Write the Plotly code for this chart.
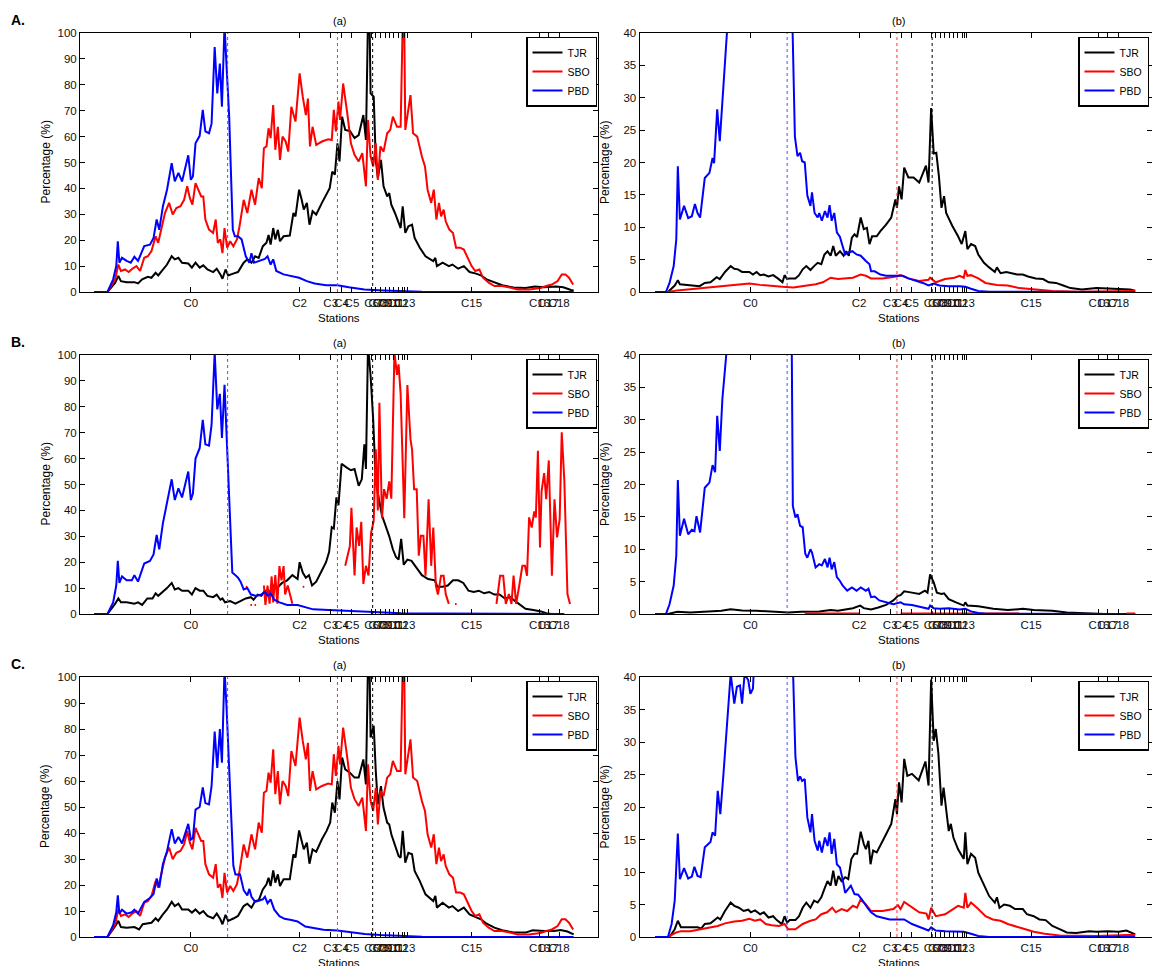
import plotly.graph_objects as go

W, H = 1152, 966

# ---------------- station ticks (x in % of transect) ----------------
STATION_POS = [21.4, 42.4, 48.4, 50.5, 52.5, 56.3, 57.1, 58.05, 58.9, 59.8, 60.6, 61.4, 62.7, 75.6, 88.7, 90.4, 92.5]
STATION_LBL = ["C0", "C2", "C3", "C4", "C5", "C6", "C7", "C8", "C9", "C10", "C11", "C12", "C13", "C15", "C16", "C17", "C18"]
EXTRA_TICKS = [62.3, 63.2]

# vertical dotted reference lines (x position, colour)
REF_LINES = [(28.5, "#5050ff"), (49.7, "#ff3030"), (56.5, "#000000")]

A_LEVELS = [0, 10, 20, 30, 40, 50, 60, 70, 80, 90, 100]
B_LEVELS = [0, 5, 10, 15, 20, 25, 30, 35, 40]

SERIES_NAMES = ["TJR", "SBO", "PBD"]
SERIES_COLORS = ["#000000", "#ff0000", "#0000ff"]

# ---------------- panel A (a) ----------------
A_a_TJR = [(2.7,0),(5.3,0),(6.8,3.6),(7.4,6.2),(7.9,4.2),(9.0,3.8),(10.5,3.8),(11.2,3.3),(12.0,4.9),(13.1,5.9),(13.8,5.5),
           (14.6,7.4),(15.1,6.4),(16.0,8.7),(16.8,10.6),(17.7,13.8),(18.3,12.6),(19.0,13.2),(19.7,11.3),(20.9,11.0),(21.6,9.4),
           (22.3,11.3),(23.1,9.4),(23.8,10.3),(24.6,8.7),(25.7,7.7),(26.4,9.0),(27.1,6.8),(27.5,5.1),(28.1,8.7),(28.6,6.4),
           (29.7,7.2),(30.5,7.7),(31.6,11.3),(32.3,12.6),(33.1,11.3),(33.8,13.8),(34.5,13.2),(35.3,17.7),(36.0,19.0),(36.4,22.0),
           (36.8,18.3),(37.3,24.7),(37.7,20.3),(38.2,24.0),(38.6,19.6),(39.3,21.5),(40.5,21.8),(41.2,30.5),(41.6,29.2),(42.3,39.5),
           (42.8,35.6),(43.2,31.8),(43.8,34.4),(44.3,26.0),(44.9,31.2),(45.6,29.9),(46.7,34.4),(47.6,37.6),(48.2,40.1),(48.7,46.5),
           (49.2,45.3),(49.7,57.4),(50.1,50.4),(50.6,67.7),(51.2,62.6),(52.1,62.2),(53.0,59.4),(53.8,60.6),(54.7,68.3),(55.2,58.7),
           (55.6,106),(55.9,104),(56.1,76.7),(56.7,75.4),(57.1,51.0),(57.5,44.0),(58.1,51.0),(58.6,40.8),(59.3,36.9),(59.7,38.2),
           (60.1,33.7),(60.8,30.5),(61.5,26.7),(61.9,24.7),(62.3,33.1),(62.8,22.8),(63.4,25.4),(64.1,26.0),(64.6,20.9),(65.6,17.1),
           (66.7,13.8),(68.2,11.9),(68.6,13.2),(68.9,10.0),(70.0,11.3),(71.2,10.0),(71.9,10.6),(73.0,9.0),(74.1,10.0),(75.2,7.7),
           (76.3,7.2),(77.4,6.4),(78.5,4.9),(80.0,3.6),(81.5,2.6),(83.7,1.7),(86.0,1.5),(87.8,2.1),(89.6,1.8),(91.9,2.1),(93.3,1.8),
           (94.8,0.8),(95.3,0.6)]

A_a_SBO = [(2.7,0),(5.3,0),(6.8,4.9),(7.4,10.6),(7.9,8.1),(8.7,8.7),(9.4,7.7),(10.1,9.0),(10.9,10.0),(11.6,8.1),(12.4,13.2),
           (13.1,13.8),(13.8,15.8),(14.6,21.5),(15.1,19.0),(15.7,24.0),(16.4,30.5),(17.2,34.4),(17.9,29.9),(18.6,32.4),(19.4,33.1),
           (20.1,35.6),(20.7,40.8),(21.2,36.3),(21.7,33.7),(22.3,42.0),(22.9,38.8),(23.4,36.9),(23.8,36.9),(24.2,28.0),(24.9,24.1),
           (25.7,22.8),(26.2,28.0),(26.6,19.0),(27.1,20.3),(27.5,15.0),(27.9,24.7),(28.4,17.1),(29.0,19.6),(29.6,17.7),(30.3,20.3),
           (30.8,25.4),(31.6,35.6),(32.3,30.5),(33.1,39.5),(33.8,33.7),(34.5,44.0),(35.1,40.1),(35.5,55.5),(36.0,56.2),(36.4,63.2),
           (36.8,59.4),(37.3,72.2),(37.7,54.9),(38.2,63.8),(38.6,51.0),(39.1,60.0),(39.7,58.1),(40.2,54.2),(40.8,71.5),(41.6,65.8),
           (42.4,84.4),(43.0,75.4),(43.6,68.3),(44.0,74.7),(44.4,56.2),(44.9,63.8),(45.6,56.8),(46.7,58.1),(47.9,59.0),(48.6,58.7),
           (49.0,70.3),(49.4,62.0),(49.9,73.5),(50.2,66.4),(50.8,80.5),(51.6,69.0),(52.3,57.4),(53.0,53.0),(53.8,50.4),(54.5,53.6),
           (55.2,40.8),(55.6,66.4),(56.1,52.3),(56.6,48.5),(57.1,57.4),(57.5,43.3),(58.0,56.2),(58.6,54.2),(59.3,61.3),(59.9,62.6),
           (60.4,67.7),(61.2,63.8),(61.9,63.8),(62.3,104),(62.6,102),(62.8,62.6),(63.2,67.7),(63.8,76.0),(64.3,61.3),(65.1,60.0),
           (66.0,52.3),(66.6,48.5),(67.1,39.5),(67.8,34.4),(68.3,39.5),(68.8,28.0),(69.3,34.4),(69.7,29.2),(70.2,31.8),(70.6,27.3),
           (71.3,24.1),(72.0,22.8),(72.6,17.1),(73.4,17.1),(74.1,16.4),(74.9,12.6),(75.6,10.0),(76.3,8.1),(77.1,8.7),(77.8,5.5),
           (78.9,3.6),(80.0,2.3),(81.5,2.3),(83.0,1.7),(84.5,1.0),(86.7,1.0),(88.9,1.5),(90.0,2.3),(91.1,2.9),(92.2,4.2),(93.0,6.8),
           (93.7,6.8),(94.4,5.5),(95.2,2.9)]

A_a_PBD = [(2.7,0),(5.3,0),(6.4,4.9),(7.0,10.0),(7.3,19.6),(7.6,11.3),(8.1,13.2),(9.0,12.0),(9.8,11.3),(10.5,13.6),(11.2,12.0),
           (12.4,17.7),(13.5,18.3),(14.2,20.9),(14.8,28.0),(15.3,24.0),(16.0,33.0),(16.8,39.5),(17.7,49.7),(18.3,42.7),(19.0,46.0),
           (19.7,42.7),(20.9,52.8),(21.4,43.3),(21.8,44.6),(22.3,57.4),(23.1,60.3),(23.7,70.3),(24.2,62.0),(24.9,61.3),(25.4,65.0),
           (26.0,94.6),(26.5,76.7),(27.0,88.2),(27.4,71.5),(27.9,103),(28.3,87.0),(28.8,67.7),(29.1,48.5),(29.5,24.0),(29.9,21.5),
           (30.5,21.5),(31.2,20.3),(32.0,13.8),(32.7,11.3),(33.1,15.0),(33.6,11.3),(34.5,12.0),(35.7,12.8),(36.2,13.8),(36.8,10.6),
           (37.3,12.6),(37.9,8.1),(39.3,6.8),(40.8,6.2),(42.3,5.5),(43.8,4.2),(45.3,3.3),(47.5,2.6),(49.7,2.6),(51.9,1.8),(54.9,1.0),
           (58.6,0.6),(62.3,0.3),(66.0,0.1),(73.4,0),(95.3,0)]

# ---------------- panel A (b) ----------------
A_b_TJR = [(3.0,0),(5.5,0),(6.8,1.0),(7.4,1.8),(7.8,1.2),(9.1,1.1),(10.5,1.1),(11.6,0.9),(12.6,1.4),(13.7,1.5),(14.9,2.3),
           (15.5,2.0),(16.5,3.1),(17.6,4.0),(18.3,3.6),(19.0,3.5),(19.8,3.1),(21.2,3.1),(21.9,2.7),(22.6,3.1),(23.3,2.6),(24.0,2.7),
           (24.9,2.4),(25.8,2.6),(26.7,2.1),(27.6,1.5),(28.0,2.6),(28.5,2.0),(29.0,2.1),(30.1,2.1),(30.8,2.6),(31.5,3.5),(32.2,4.0),
           (33.0,3.4),(33.7,4.0),(34.4,4.5),(35.1,4.3),(35.7,5.8),(36.3,6.3),(36.9,5.6),(37.4,7.1),(37.9,5.6),(38.7,6.3),(39.4,5.6),
           (39.9,6.3),(40.4,5.6),(41.0,8.4),(41.5,8.9),(42.0,8.5),(42.7,11.5),(43.3,9.7),(43.9,9.9),(44.4,7.4),(44.9,8.6),(45.8,8.6),
           (46.5,9.4),(47.6,10.4),(48.6,11.5),(49.4,14.3),(49.7,13.0),(50.1,16.3),(50.6,14.3),(51.1,19.2),(51.9,17.7),(52.9,17.7),
           (54.0,16.9),(55.3,19.5),(55.8,16.9),(56.3,28.4),(56.8,21.4),(57.3,21.5),(57.8,17.9),(58.3,13.0),(58.8,14.8),(59.2,12.2),
           (59.9,11.0),(60.4,10.2),(61.5,8.6),(62.2,7.4),(62.9,9.4),(63.3,6.6),(64.0,7.4),(64.8,7.1),(65.4,5.8),(66.5,4.5),(67.5,3.8),
           (68.6,3.1),(69.0,3.8),(69.7,2.9),(70.8,3.1),(71.8,2.9),(72.9,2.7),(74.0,2.7),(75.0,2.4),(76.5,2.1),(77.9,2.0),(79.0,1.5),
           (80.4,1.4),(81.8,1.0),(83.2,0.6),(85.4,0.4),(88.2,0.6),(90.4,0.55),(92.5,0.5),(94.7,0.4),(95.7,0.2)]

A_b_SBO = [(3.0,0),(5.5,0),(7.3,0.25),(9.1,0.4),(11.9,0.6),(14.8,0.8),(16.9,1.0),(19.0,1.2),(21.2,1.3),(23.3,1.1),(25.5,0.9),
           (27.6,0.8),(29.7,0.7),(31.9,0.9),(34.0,1.2),(35.4,1.5),(36.9,2.2),(38.3,2.0),(39.7,2.1),(41.2,2.2),(42.7,2.7),(43.7,2.5),
           (44.7,2.1),(46.9,2.1),(49.0,2.3),(50.4,2.6),(51.9,2.1),(54.0,1.7),(55.8,1.9),(56.1,2.2),(57.2,1.5),(59.0,2.0),(60.8,2.2),
           (61.8,2.5),(62.6,2.2),(62.9,3.4),(63.3,2.5),(64.0,2.6),(65.4,2.1),(66.8,1.4),(69.0,1.1),(71.1,1.0),(73.3,0.6),(76.1,0.4),
           (79.7,0.15),(84.7,0.05),(91.8,0.05),(95.7,0.15)]

A_b_PBD = [(3.0,0),(5.1,0),(5.8,1.4),(6.6,4.0),(7.1,8.1),(7.4,19.4),(7.8,11.2),(8.6,13.3),(9.4,11.4),(10.1,11.7),(10.7,13.6),
           (11.2,12.2),(11.7,11.5),(12.6,17.6),(13.5,18.4),(14.1,20.7),(14.4,19.9),(15.0,28.2),(15.5,23.3),(16.2,32.3),(16.9,40.5),
           (17.7,50.0),(18.3,43.0),(19.0,46.0),(19.7,43.0),(20.9,53.0),(21.4,44.0),(22.3,57.0),(23.7,70.0),(24.9,61.0),(26.0,94.0),
           (27.4,72.0),(27.9,100),(28.8,68.0),(29.3,50.0),(29.6,40.0),(30.0,24.0),(30.5,21.0),(31.0,21.5),(31.4,20.2),(31.9,20.0),
           (32.4,14.9),(33.0,13.3),(33.3,15.4),(33.8,12.2),(34.4,11.5),(34.7,12.2),(35.2,11.0),(35.8,12.5),(36.3,11.5),(36.7,13.4),
           (37.1,11.0),(37.6,12.2),(38.1,9.2),(38.7,8.5),(39.2,7.1),(39.7,5.8),(40.3,6.1),(41.1,6.3),(41.9,5.8),(42.7,5.6),(43.7,4.8),
           (44.4,4.3),(44.7,3.2),(45.4,3.2),(46.5,2.7),(47.6,2.5),(48.6,2.5),(49.9,2.5),(50.8,2.5),(51.9,2.1),(53.3,1.8),(54.7,1.4),
           (55.8,1.0),(56.8,1.3),(57.9,1.0),(59.7,0.9),(61.8,0.9),(62.9,0.8),(64.0,0.5),(65.4,0.15),(67.5,0.05),(95.7,0)]

# ---------------- panel B (a) ----------------
B_a_TJR = [(2.7,0),(5.3,0),(6.8,4.0),(7.4,6.0),(7.9,4.5),(9.0,4.5),(10.5,4.0),(11.2,4.5),(12.0,3.5),(13.0,6.0),(14.0,6.0),
           (14.6,8.0),(15.1,7.0),(16.0,8.5),(16.8,10.0),(17.7,12.0),(18.3,9.5),(19.0,10.0),(19.7,9.0),(20.9,9.0),(21.6,7.5),
           (22.3,10.0),(23.1,9.0),(23.8,9.0),(24.6,7.0),(25.7,6.5),(26.4,7.5),(27.1,5.5),(27.5,6.0),(28.0,4.5),(29.0,5.0),(30.0,4.0),
           (31.0,5.0),(32.0,6.0),(33.0,6.5),(33.5,5.5),(34.3,7.5),(35.0,7.0),(35.7,9.0),(36.5,8.0),(37.3,11.0),(38.0,10.0),(39.0,12.0),
           (40.0,13.0),(41.0,15.0),(42.0,13.5),(42.4,20.0),(43.0,16.0),(43.6,14.0),(44.2,15.0),(44.8,11.0),(45.6,12.5),(46.5,16.0),
           (47.5,20.0),(48.1,24.0),(48.6,33.5),(49.0,33.0),(49.5,45.0),(49.9,42.0),(50.5,58.0),(51.5,56.5),(52.3,55.5),(53.0,56.0),
           (53.8,49.5),(54.4,52.0),(54.9,65.5),(55.2,56.0),(55.6,104),(56.1,92.0),(56.6,75.0),(57.1,51.0),(57.6,45.0),(58.3,38.0),
           (59.0,34.0),(59.7,30.0),(60.4,25.0),(61.0,22.0),(61.5,21.0),(62.0,29.0),(62.5,19.0),(63.2,21.0),(64.0,20.5),(65.0,17.5),
           (66.0,15.0),(67.2,13.5),(68.5,13.0),(69.0,10.5),(70.0,10.5),(71.0,11.0),(72.0,13.0),(73.0,13.0),(74.0,12.0),(75.0,9.0),
           (76.0,8.5),(77.0,9.0),(78.0,8.0),(79.0,8.5),(80.0,7.5),(81.0,7.5),(82.0,6.0),(83.0,6.5),(84.0,5.0),(85.0,3.5),(86.0,2.0),
           (87.5,1.5),(89.0,1.0),(90.0,0.3),(91.0,0)]

# SBO in B(a) is interrupted (missing values -> None)
B_a_SBO = [(32.0,10.5),(32.3,10.5),(32.4,None),(32.9,3.5),(33.2,3.5),(33.3,None),(33.7,3.5),(34.0,3.5),(34.1,None),
           (35.5,11.0),(35.8,3.5),(36.2,11.0),(36.6,4.0),(37.0,14.5),(37.3,4.5),(37.7,15.0),(38.1,4.0),(38.5,18.5),(38.9,13.0),
           (39.3,18.5),(39.6,7.5),(40.1,11.0),(40.6,7.5),(41.0,4.0),(41.1,None),(43.0,10.5),(43.3,10.5),(43.4,None),
           (51.2,18.6),(52.1,26.3),(52.4,41.0),(53.0,14.9),(53.4,33.4),(53.9,26.3),(54.3,35.6),(54.7,11.6),(55.2,18.6),(55.7,14.9),
           (56.2,31.4),(56.7,36.0),(57.1,63.6),(57.5,40.0),(57.8,81.6),(58.3,37.0),(58.7,48.2),(59.2,44.5),(59.7,51.2),(60.1,44.5),
           (60.7,101),(61.2,92.3),(61.5,96.4),(61.9,85.0),(62.6,37.0),(63.2,88.4),(63.8,67.5),(64.1,63.6),(64.5,48.2),(65.0,48.2),
           (65.4,22.5),(65.8,30.2),(66.3,30.2),(66.7,14.8),(67.3,44.3),(67.8,18.6),(68.2,33.4),(68.7,10.9),(69.1,7.5),(69.7,14.8),
           (70.2,14.8),(70.6,7.7),(71.2,3.9),(71.3,None),(72.4,3.9),(72.7,3.9),(72.8,None),
           (80.4,3.9),(81.1,14.8),(81.7,14.8),(82.2,3.9),(82.8,7.7),(83.3,3.9),(83.7,14.8),(84.2,3.9),(84.8,11.0),(85.4,18.6),
           (85.9,18.6),(86.3,14.8),(86.7,37.3),(87.2,33.4),(87.7,39.6),(88.0,37.3),(88.4,63.0),(88.8,25.7),(89.1,47.3),(89.6,54.4),
           (90.0,44.3),(90.5,59.3),(91.1,14.8),(91.6,44.3),(92.1,29.6),(92.6,36.6),(93.0,70.2),(93.5,51.6),(94.1,7.7),(94.6,3.9)]

B_a_PBD = [(2.7,0),(5.3,0),(6.4,4.5),(7.0,11.0),(7.3,20.5),(7.6,12.0),(8.1,14.5),(9.0,13.0),(10.0,13.0),(10.5,15.0),(11.2,12.5),
           (12.4,19.5),(13.5,20.5),(14.2,23.0),(14.8,30.5),(15.3,25.0),(16.0,35.0),(16.8,43.0),(17.7,52.0),(18.3,44.0),(19.0,48.5),
           (19.7,45.0),(20.9,55.0),(21.4,44.0),(21.8,46.5),(22.3,60.0),(23.1,64.0),(23.7,75.0),(24.2,65.5),(24.9,65.0),(25.4,73.0),
           (26.0,101),(26.5,79.0),(27.0,85.0),(27.4,68.0),(27.9,88.5),(28.3,70.0),(28.8,45.0),(29.4,16.0),(30.0,15.0),(30.5,14.0),
           (31.0,12.5),(31.6,9.5),(32.3,10.0),(33.0,7.5),(34.0,7.0),(35.0,7.5),(35.7,8.5),(36.3,7.0),(36.8,8.0),(37.5,5.5),(38.5,4.5),
           (40.0,3.5),(42.0,3.5),(43.5,2.5),(45.0,1.8),(48.0,1.5),(52.0,1.2),(55.0,0.8),(58.0,0.5),(62.0,0.3),(70.0,0.2),(80.0,0.1),
           (93.5,0)]

# ---------------- panel B (b) ----------------
B_b_TJR = [(3.0,0),(5.5,0),(7.3,0.35),(9.8,0.25),(13.3,0.4),(15.8,0.5),(17.6,0.75),(19.8,0.55),(22.6,0.5),(25.5,0.4),(28.7,0.25),
           (31.2,0.35),(34.7,0.4),(36.9,0.6),(38.3,0.5),(41.2,0.9),(42.6,1.3),(43.3,0.9),(44.7,0.7),(46.1,1.0),(47.6,1.4),(49.0,2.1),
           (49.9,2.8),(50.4,2.9),(51.1,3.5),(52.6,3.3),(54.0,3.1),(55.1,3.6),(55.6,3.3),(56.1,6.1),(56.8,4.9),(57.4,3.3),(58.3,3.1),
           (58.8,3.2),(59.7,2.3),(61.1,1.8),(62.6,1.3),(62.9,1.8),(63.3,1.3),(65.4,1.2),(68.3,0.8),(71.1,0.6),(74.0,0.8),(76.1,0.6),
           (79.7,0.5),(82.5,0.25),(86.1,0.1),(89.7,0),(95.7,0)]

B_b_SBO = [(31.9,0.08),(42.6,0.08),(42.7,None),(50.4,0.08),(73.3,0.08),(73.4,None),(94.0,0.08),(95.7,0.08)]

B_b_PBD = [(3.0,0),(5.1,0),(5.8,1.5),(6.6,4.4),(7.1,9.0),(7.4,20.7),(7.8,12.1),(8.6,14.7),(9.4,12.3),(10.1,13.0),(10.6,12.8),
           (11.0,15.1),(11.7,12.6),(12.6,19.5),(13.5,20.3),(14.1,23.0),(14.6,21.9),(15.0,30.6),(15.5,25.2),(16.0,33.2),(16.8,40.5),
           (17.7,52.0),(19.0,48.0),(20.9,55.0),(22.3,60.0),(23.7,75.0),(26.0,100),(27.9,88.0),(28.8,60.0),(29.4,40.5),(29.6,16.7),
           (30.1,14.9),(30.5,15.4),(31.0,13.6),(31.5,13.4),(32.0,9.3),(32.4,8.7),(33.0,10.0),(33.3,9.5),(34.0,7.2),(34.7,7.7),
           (35.2,7.5),(35.8,8.5),(36.3,7.2),(36.7,8.7),(37.1,6.9),(37.6,8.0),(38.1,5.7),(38.7,5.1),(39.2,4.4),(40.1,3.6),(41.0,4.1),
           (41.9,3.6),(42.7,4.1),(43.7,3.6),(44.2,3.9),(44.7,2.6),(45.4,2.7),(46.3,2.1),(47.6,1.8),(49.0,1.5),(50.4,1.8),(51.1,1.5),
           (52.6,1.4),(54.4,1.0),(55.8,0.8),(56.1,1.3),(56.8,0.9),(57.9,0.8),(59.7,0.9),(61.8,0.7),(62.9,0.8),(64.0,0.4),(65.4,0.15),
           (66.8,0.05),(93.9,0)]

# ---------------- panel C (a) ----------------
C_a_TJR = [(3.5,0),(5.3,0),(6.8,4.2),(7.4,6.2),(7.9,3.8),(9.0,3.6),(10.5,3.8),(11.4,2.9),(12.1,4.9),(13.1,5.1),(13.8,5.5),
           (14.6,7.2),(15.1,6.2),(16.0,8.7),(16.8,10.6),(17.7,13.5),(18.3,11.9),(19.0,12.8),(19.7,10.6),(20.9,10.6),(21.6,9.4),
           (22.3,10.6),(23.1,9.0),(23.8,10.0),(24.6,8.1),(25.7,7.2),(26.4,9.0),(27.1,6.8),(27.5,4.9),(28.1,8.5),(28.6,6.2),
           (29.7,7.2),(30.5,8.1),(31.6,11.9),(32.3,12.8),(33.1,11.3),(33.8,13.8),(34.5,14.1),(35.3,18.3),(36.0,20.3),(36.4,22.8),
           (36.8,19.6),(37.3,25.6),(37.7,20.9),(38.2,24.1),(38.6,19.6),(39.3,22.2),(40.5,22.2),(41.2,31.8),(41.6,30.5),(42.3,41.0),
           (42.8,36.9),(43.2,33.7),(43.8,36.3),(44.3,28.2),(44.9,33.7),(45.6,32.8),(46.7,37.6),(47.6,40.8),(48.3,44.0),(48.7,51.7),
           (49.2,47.8),(49.7,60.0),(50.1,52.9),(50.6,69.0),(51.2,64.5),(52.1,63.2),(53.0,61.3),(53.8,61.3),(54.7,68.3),(55.2,58.7),
           (55.6,106),(55.9,104),(56.1,76.7),(56.7,81.2),(57.1,63.8),(57.5,51.0),(58.1,58.0),(58.6,49.7),(59.3,44.0),(59.7,43.3),
           (60.1,39.5),(60.8,35.6),(61.5,31.2),(61.9,30.5),(62.3,40.8),(62.8,28.6),(63.4,32.4),(64.1,31.8),(64.6,25.4),(65.6,21.5),
           (66.7,16.4),(68.2,13.8),(68.6,15.8),(68.9,11.3),(70.0,13.2),(71.2,11.3),(71.9,11.9),(73.0,10.0),(74.1,11.3),(75.2,8.7),
           (76.3,7.7),(77.4,6.8),(78.5,5.1),(80.0,3.6),(81.5,2.6),(83.7,1.7),(86.0,1.7),(87.4,2.6),(89.6,2.3),(91.5,2.3),(92.8,2.7),
           (94.1,2.1),(95.3,1.0)]

C_a_SBO = A_a_SBO  # identical curve in the reference

C_a_PBD = [(2.7,0),(5.3,0),(6.4,4.5),(7.0,9.5),(7.3,16.0),(7.6,9.0),(8.1,10.5),(9.0,9.0),(10.0,9.5),(10.5,10.5),(11.2,9.0),
           (12.4,13.5),(13.5,15.0),(14.2,16.5),(14.8,22.5),(15.3,19.0),(16.0,28.0),(16.8,33.0),(17.7,41.5),(18.3,36.0),(19.0,38.5),
           (19.7,36.0),(20.9,43.5),(21.4,37.5),(21.8,38.0),(22.3,49.0),(23.1,50.0),(23.7,57.5),(24.2,51.5),(24.9,51.0),(25.4,58.0),
           (26.0,79.0),(26.5,65.0),(27.0,80.0),(27.4,67.0),(27.9,103),(28.3,88.0),(28.8,65.0),(29.2,50.0),(29.6,27.5),(30.0,24.0),
           (30.9,24.0),(31.6,18.0),(32.3,16.0),(32.7,18.5),(33.1,15.5),(33.8,13.5),(34.5,14.0),(35.3,14.5),(35.7,15.5),(36.2,13.0),
           (36.8,14.5),(37.5,10.5),(38.5,8.0),(39.5,7.0),(40.8,6.5),(42.0,6.0),(43.5,4.0),(45.0,3.5),(47.0,2.8),(49.7,2.5),(51.5,2.0),
           (55.0,1.2),(58.0,0.8),(62.0,0.4),(66.0,0.1),(73.0,0),(95.3,0)]

# ---------------- panel C (b) ----------------
C_b_TJR = [(3.0,0),(5.8,0),(6.8,1.2),(7.4,2.5),(8.0,1.5),(9.1,1.5),(10.1,1.4),(11.2,1.5),(11.9,1.3),(12.6,2.0),(13.7,2.1),
           (14.4,2.6),(15.1,3.0),(15.6,2.7),(16.5,4.0),(17.6,5.3),(18.3,4.8),(19.2,4.5),(20.1,4.0),(21.0,4.2),(21.5,3.8),(22.3,4.1),
           (23.3,3.5),(24.0,3.8),(24.9,3.0),(25.8,3.2),(26.5,2.6),(27.5,2.0),(28.0,3.2),(28.5,2.2),(29.0,2.6),(30.1,2.6),(30.8,3.2),
           (31.5,4.5),(32.2,5.3),(33.0,4.5),(33.7,5.6),(34.4,5.3),(35.1,6.1),(35.7,7.4),(36.3,8.6),(36.9,7.9),(37.4,10.2),(37.9,7.9),
           (38.4,9.4),(39.0,8.6),(39.7,9.2),(40.3,8.9),(40.9,12.0),(41.5,12.8),(42.0,12.8),(42.7,16.2),(43.3,14.3),(43.7,13.5),
           (44.2,14.8),(44.6,11.2),(45.1,13.3),(45.8,13.0),(46.5,14.0),(47.6,15.8),(48.6,17.4),(49.4,21.2),(49.7,18.9),(50.1,23.8),
           (50.6,20.7),(51.1,27.4),(51.7,24.8),(52.6,25.1),(53.9,24.1),(55.2,27.0),(55.8,23.3),(56.3,39.6),(56.8,30.2),(57.2,32.0),
           (57.7,28.2),(58.3,20.2),(58.7,23.0),(59.1,20.2),(59.7,16.3),(60.1,17.4),(60.6,15.3),(61.5,13.5),(62.6,12.0),(62.9,16.1),
           (63.3,11.2),(64.0,12.8),(64.8,12.2),(65.4,9.9),(66.5,8.1),(67.5,6.3),(68.6,5.3),(69.0,6.1),(69.5,4.5),(70.4,5.0),(71.5,4.8),
           (72.5,4.3),(74.0,4.3),(74.8,3.5),(76.1,3.2),(77.2,2.7),(78.4,2.6),(79.7,1.7),(81.1,1.2),(82.5,0.7),(84.3,0.6),(86.8,0.9),
           (88.2,0.8),(90.4,0.9),(92.5,0.8),(94.0,1.0),(95.7,0.4)]

C_b_SBO = [(3.0,0),(5.5,0),(7.1,0.7),(8.0,0.9),(9.8,0.9),(11.9,1.2),(13.3,1.4),(15.1,1.7),(16.5,2.1),(18.3,2.4),(19.8,2.5),
           (21.2,2.8),(22.3,2.5),(23.3,2.7),(24.4,2.0),(25.5,1.8),(26.9,1.7),(28.0,2.0),(28.7,1.2),(30.1,1.2),(31.5,2.0),(33.0,2.5),
           (34.0,2.7),(35.1,3.5),(36.2,3.8),(37.2,4.5),(37.9,3.8),(39.0,4.3),(40.1,4.0),(41.2,4.8),(42.0,4.5),(42.7,5.8),(43.7,5.0),
           (44.7,4.0),(46.9,4.0),(49.0,4.3),(49.9,4.9),(50.4,4.3),(51.1,5.4),(52.6,4.5),(54.0,3.8),(55.4,3.6),(55.8,2.7),(56.3,4.5),
           (57.2,3.2),(59.0,3.5),(60.4,4.3),(61.5,4.8),(62.6,4.5),(62.9,6.8),(63.3,4.5),(64.0,5.3),(65.4,4.3),(66.8,3.2),(68.2,2.7),
           (69.7,2.5),(71.1,2.0),(72.5,1.7),(74.0,1.3),(76.1,0.8),(78.2,0.5),(81.1,0.25),(88.2,0.15),(94.0,0.3),(95.7,0.3)]

C_b_PBD = [(3.0,0),(5.5,0),(6.2,2.0),(6.8,5.6),(7.4,15.9),(7.8,8.9),(8.6,10.6),(9.4,9.0),(10.1,9.3),(10.6,10.8),(11.2,9.4),
           (11.8,9.2),(12.6,13.8),(13.7,14.6),(14.1,16.1),(14.6,15.6),(15.1,22.5),(15.6,18.9),(16.2,25.0),(16.9,33.3),(17.6,40.5),
           (18.3,35.9),(18.8,38.5),(19.4,38.7),(19.8,35.9),(20.3,40.5),(21.0,39.5),(21.4,37.4),(21.9,38.2),(22.3,45.0),(23.7,57.5),
           (26.0,79.0),(27.0,80.0),(27.9,100),(28.8,65.0),(29.7,40.5),(30.1,27.7),(30.6,24.0),(31.0,24.7),(31.4,24.0),(31.9,24.3),
           (32.4,18.4),(33.0,16.1),(33.3,18.9),(33.8,14.8),(34.4,13.3),(34.7,14.8),(35.2,13.0),(35.8,15.3),(36.3,14.0),(36.7,16.1),
           (37.1,12.8),(37.6,15.1),(38.1,11.2),(38.7,10.7),(39.2,8.9),(39.7,6.8),(40.8,7.9),(41.5,6.6),(42.2,6.5),(42.9,5.8),(44.0,4.5),
           (44.7,3.8),(45.8,3.2),(46.9,3.0),(48.3,2.7),(49.7,2.7),(51.1,2.7),(52.6,2.0),(54.4,1.4),(55.8,1.0),(56.3,1.5),(57.2,1.0),
           (59.0,0.9),(61.1,0.9),(62.6,0.8),(64.0,0.5),(65.4,0.15),(67.5,0),(95.7,0)]

PANELS = [
    # (row label, column, series data, y levels)
    ("A", 0, [A_a_TJR, A_a_SBO, A_a_PBD], A_LEVELS),
    ("A", 1, [A_b_TJR, A_b_SBO, A_b_PBD], B_LEVELS),
    ("B", 0, [B_a_TJR, B_a_SBO, B_a_PBD], A_LEVELS),
    ("B", 1, [B_b_TJR, B_b_SBO, B_b_PBD], B_LEVELS),
    ("C", 0, [C_a_TJR, C_a_SBO, C_a_PBD], A_LEVELS),
    ("C", 1, [C_b_TJR, C_b_SBO, C_b_PBD], B_LEVELS),
]

# ---------------- layout geometry (pixels) ----------------
COL_X = [(80, 598), (639.5, 1152)]
COL_XRANGE = [(0, 100), (0, 100 * (1152 - 639.5) / 518)]
ROW_Y = {"A": (33, 292), "B": (355, 614), "C": (677, 937)}
LEGEND_RIGHT = [597, 1149]

FONT = "Liberation Sans, Arial, Helvetica, sans-serif"


def px(x):
    return x / W


def py(y):
    return 1 - y / H


fig = go.Figure()
layout = dict(
    width=W, height=H, margin=dict(l=0, r=0, t=0, b=0, pad=0, autoexpand=False),
    paper_bgcolor="white", plot_bgcolor="white",
    font=dict(family=FONT, size=11, color="#000000"),
    showlegend=True,
)
annotations = []

for i, (row, col, series, levels) in enumerate(PANELS):
    k = i + 1
    xa = "xaxis" if k == 1 else f"xaxis{k}"
    ya = "yaxis" if k == 1 else f"yaxis{k}"
    xr = "x" if k == 1 else f"x{k}"
    yr = "y" if k == 1 else f"y{k}"
    lg = "legend" if k == 1 else f"legend{k}"
    x0, x1 = COL_X[col]
    ytop, ybot = ROW_Y[row]
    layout[xa] = dict(
        domain=[px(x0), min(1.0, px(x1))], range=list(COL_XRANGE[col]), anchor=yr,
        tickmode="array", tickvals=STATION_POS + EXTRA_TICKS, ticktext=STATION_LBL + ["", ""],
        tickangle=0, ticks="inside", ticklen=5, tickwidth=1, tickcolor="#000",
        showline=True, linecolor="#000", linewidth=1, mirror="ticks",
        showgrid=False, zeroline=False, tickfont=dict(size=11.5, color="#111"),
        automargin=False,
    )
    layout[ya] = dict(
        domain=[py(ybot), py(ytop)], range=[levels[0], levels[-1]], anchor=xr,
        tickmode="array", tickvals=levels, ticktext=[str(v) for v in levels],
        ticks="inside", ticklen=5, tickwidth=1, tickcolor="#000",
        showline=True, linecolor="#000", linewidth=1, mirror="ticks",
        showgrid=False, zeroline=False, tickfont=dict(size=11.5, color="#111"),
        automargin=False,
    )
    for name, colr, pts in zip(SERIES_NAMES, SERIES_COLORS, series):
        xs = [p[0] for p in pts]
        ys = [p[1] for p in pts]
        fig.add_trace(go.Scatter(x=xs, y=ys, mode="lines", name=name, xaxis=xr, yaxis=yr,
                                 line=dict(color=colr, width=2), connectgaps=False,
                                 legend=lg, showlegend=True, hoverinfo="skip"))
    # dotted vertical reference lines spanning the full y range
    for (xv, colr) in REF_LINES:
        fig.add_trace(go.Scatter(x=[xv, xv], y=[levels[0], levels[-1]], mode="lines", xaxis=xr, yaxis=yr,
                                 line=dict(color=colr, width=1, dash="dot"), showlegend=False,
                                 hoverinfo="skip", legend=lg))
    layout[lg] = dict(
        x=px(LEGEND_RIGHT[col]), y=py(ytop + 3.5), xanchor="right", yanchor="top",
        bgcolor="white", bordercolor="#000", borderwidth=1.5,
        font=dict(size=10.5, family=FONT, color="#000"), tracegroupgap=0, itemwidth=30,
    )
    cx = x0 + 259
    annotations.append(dict(text="(a)" if col == 0 else "(b)", x=px(cx), y=py(ytop - 12), xref="paper", yref="paper",
                            showarrow=False, font=dict(size=11), xanchor="center", yanchor="middle"))
    annotations.append(dict(text="Stations", x=px(cx), y=py(ybot + 26), xref="paper", yref="paper",
                            showarrow=False, font=dict(size=11.5), xanchor="center", yanchor="middle"))
    annotations.append(dict(text="Percentage (%)", x=px(x0 - 35), y=py((ytop + ybot) / 2), xref="paper", yref="paper",
                            showarrow=False, font=dict(size=12), textangle=-90, xanchor="center", yanchor="middle"))
    if col == 0:
        annotations.append(dict(text=f"<b>{row}.</b>", x=px(18), y=py(ytop - 13), xref="paper", yref="paper",
                                showarrow=False, font=dict(size=14), xanchor="center", yanchor="middle"))

layout["annotations"] = annotations
fig.update_layout(**layout)
fig.write_html("out.html", config={"displayModeBar": False},
               post_script="document.body.style.margin='0px';document.body.style.padding='0px';"
                           "document.body.style.overflow='hidden';")
